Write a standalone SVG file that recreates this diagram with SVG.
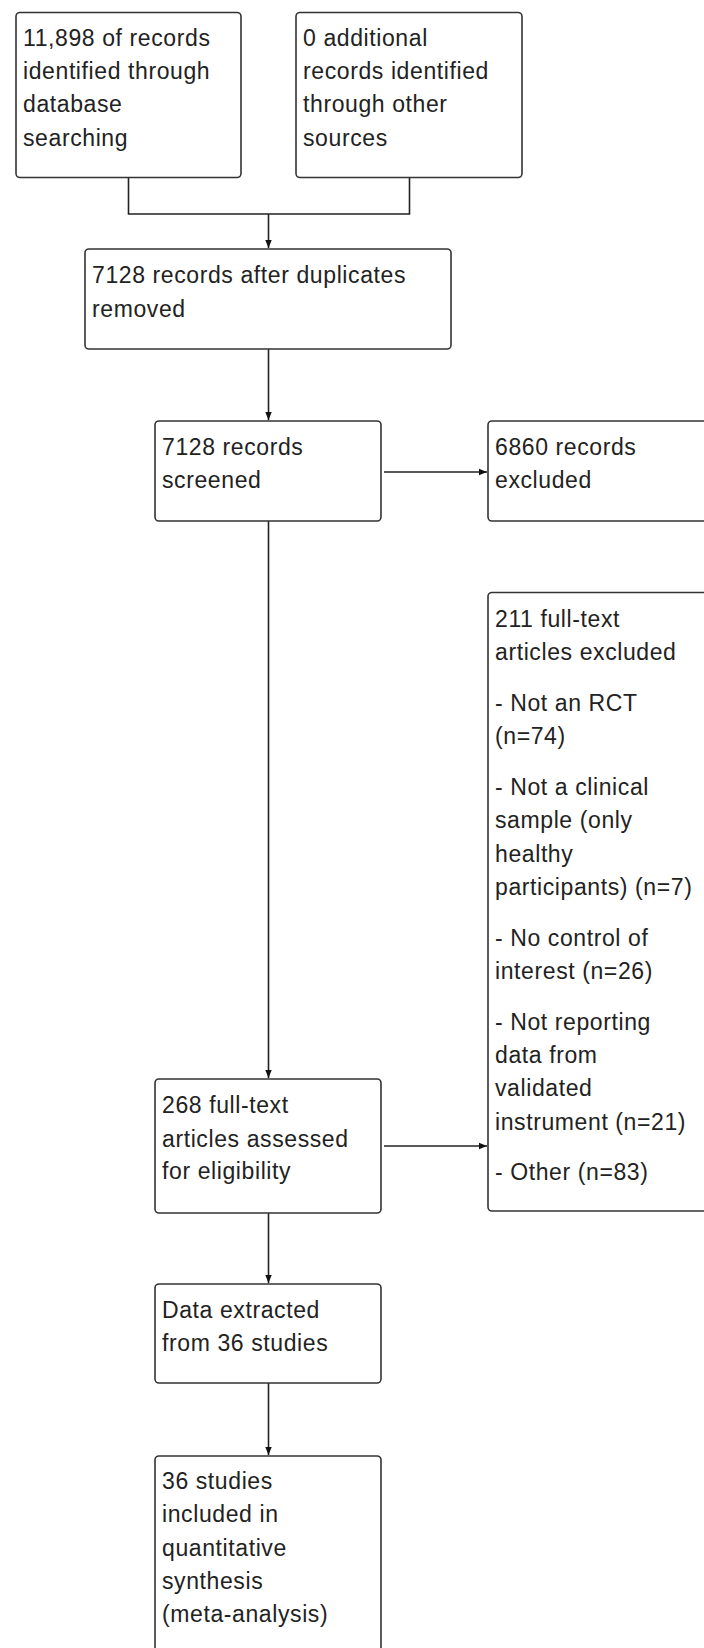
<svg xmlns="http://www.w3.org/2000/svg" width="704" height="1648" viewBox="0 0 704 1648">
<style>
.box{fill:#fff;stroke:#333;stroke-width:1.6}
.t{font-family:"Liberation Sans",Arial,sans-serif;font-size:23px;letter-spacing:0.6px;fill:#222}
.c{fill:none;stroke:#222;stroke-width:1.6}
</style>
<defs>
<marker id="ah" viewBox="0 0 10 10" refX="10" refY="5" markerWidth="8" markerHeight="8" markerUnits="userSpaceOnUse" orient="auto">
<path d="M0,1 L10,5 L0,9 Z" fill="#111"/>
</marker>
</defs>
<rect width="704" height="1648" fill="#fff"/>
<g id="connectors">
<path class="c" d="M128.5,177.5 V214 H409.5 V177.5"/>
<path class="c" d="M268.5,214 V248" marker-end="url(#ah)"/>
<path class="c" d="M268.5,349 V420" marker-end="url(#ah)"/>
<path class="c" d="M384,472 H487" marker-end="url(#ah)"/>
<path class="c" d="M268.5,521 V1078" marker-end="url(#ah)"/>
<path class="c" d="M384,1146 H487" marker-end="url(#ah)"/>
<path class="c" d="M268.5,1213 V1283" marker-end="url(#ah)"/>
<path class="c" d="M268.5,1383 V1455" marker-end="url(#ah)"/>
</g>
<g id="n1">
<rect class="box" x="16" y="12.5" width="225" height="165" rx="4"/>
<text class="t" x="23"><tspan x="23" y="45.7">11,898 of records</tspan><tspan x="23" y="79">identified through</tspan><tspan x="23" y="112.3">database</tspan><tspan x="23" y="145.6">searching</tspan></text>
</g>
<g id="n2">
<rect class="box" x="296" y="12.5" width="226" height="165" rx="4"/>
<text class="t"><tspan x="303" y="45.7">0 additional</tspan><tspan x="303" y="79">records identified</tspan><tspan x="303" y="112.3">through other</tspan><tspan x="303" y="145.6">sources</tspan></text>
</g>
<g id="n3">
<rect class="box" x="85" y="249" width="366" height="100" rx="4"/>
<text class="t"><tspan x="92" y="283.3">7128 records after duplicates</tspan><tspan x="92" y="316.7">removed</tspan></text>
</g>
<g id="n4">
<rect class="box" x="155" y="421" width="226" height="100" rx="4"/>
<text class="t"><tspan x="162" y="455">7128 records</tspan><tspan x="162" y="488.3">screened</tspan></text>
</g>
<g id="n5">
<rect class="box" x="488" y="421" width="240" height="100" rx="4"/>
<text class="t"><tspan x="495" y="455">6860 records</tspan><tspan x="495" y="488.3">excluded</tspan></text>
</g>
<g id="n6">
<rect class="box" x="488" y="592.5" width="240" height="618.5" rx="4"/>
<text class="t"><tspan x="495" y="627">211 full-text</tspan><tspan x="495" y="660.3">articles excluded</tspan><tspan x="495" y="711">- Not an RCT</tspan><tspan x="495" y="744.3">(n=74)</tspan><tspan x="495" y="795">- Not a clinical</tspan><tspan x="495" y="828.3">sample (only</tspan><tspan x="495" y="861.6">healthy</tspan><tspan x="495" y="894.9">participants) (n=7)</tspan><tspan x="495" y="945.6">- No control of</tspan><tspan x="495" y="978.9">interest (n=26)</tspan><tspan x="495" y="1029.6">- Not reporting</tspan><tspan x="495" y="1062.9">data from</tspan><tspan x="495" y="1096.2">validated</tspan><tspan x="495" y="1129.5">instrument (n=21)</tspan><tspan x="495" y="1180.2">- Other (n=83)</tspan></text>
</g>
<g id="n7">
<rect class="box" x="155" y="1079" width="226" height="134" rx="4"/>
<text class="t"><tspan x="162" y="1113.3">268 full-text</tspan><tspan x="162" y="1146.7">articles assessed</tspan><tspan x="162" y="1179.3">for eligibility</tspan></text>
</g>
<g id="n8">
<rect class="box" x="155" y="1284" width="226" height="99" rx="4"/>
<text class="t"><tspan x="162" y="1318">Data extracted</tspan><tspan x="162" y="1351.3">from 36 studies</tspan></text>
</g>
<g id="n9">
<rect class="box" x="155" y="1456" width="226" height="220" rx="4"/>
<text class="t"><tspan x="162" y="1489">36 studies</tspan><tspan x="162" y="1522.3">included in</tspan><tspan x="162" y="1555.6">quantitative</tspan><tspan x="162" y="1589">synthesis</tspan><tspan x="162" y="1622.3">(meta-analysis)</tspan></text>
</g>
</svg>
